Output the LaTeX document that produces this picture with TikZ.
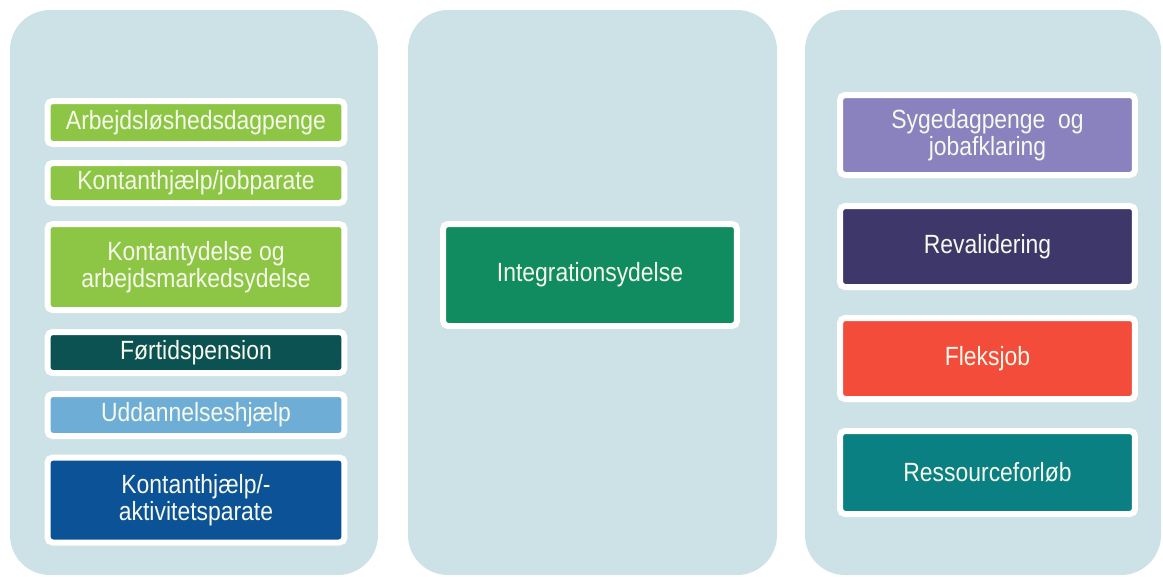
\documentclass[tikz,border=0pt]{standalone}
\usepackage{fontspec}
\setmainfont[FakeStretch=0.87]{Liberation Sans}
\usetikzlibrary{positioning}

\definecolor{panelbg}{RGB}{204,226,230}
\definecolor{txtcol}{RGB}{246,249,236}
\definecolor{lgreen}{RGB}{141,198,68}
\definecolor{dteal}{RGB}{12,82,82}
\definecolor{lblue}{RGB}{110,174,214}
\definecolor{dblue}{RGB}{12,82,150}
\definecolor{igreen}{RGB}{16,140,96}
\definecolor{lavender}{RGB}{138,130,190}
\definecolor{dpurple}{RGB}{62,56,106}
\definecolor{fred}{RGB}{244,76,58}
\definecolor{rteal}{RGB}{10,128,130}

\tikzset{
  panel/.style={fill=panelbg,rounded corners=0.8cm},
  ybox/.style={draw=white,line width=0.12cm,rounded corners=0.1cm,
    minimum width=#1,inner sep=0pt,align=center,text=txtcol,
    font=\fontsize{15}{15.6}\selectfont},
  ybox/.default=5.94cm
}

\begin{document}
\begin{tikzpicture}[x=0.02cm,y=-0.02cm]
        \useasboundingbox (0,0) rectangle (1163,576);
        %% Panels
        \fill[panel] (10,10) rectangle (378,575);
        \fill[panel] (408,10) rectangle (777,575);
        \fill[panel] (805,10) rectangle (1161,575);
        %% Left column
        \node[ybox,fill=lgreen,minimum height=0.86cm] (dagpenge) at (196,122.5) {Arbejdsløshedsdagpenge};
        \node[ybox,fill=lgreen,minimum height=0.80cm] (jobparate) at (196,183) {Kontanthjælp/jobparate};
        \node[ybox,fill=lgreen,minimum height=1.72cm] (kontanty) at (196,267) {Kontantydelse og\\arbejdsmarkedsydelse};
        \node[ybox,fill=dteal,minimum height=0.82cm] (foertid) at (196,352.5) {Førtidspension};
        \node[ybox,fill=lblue,minimum height=0.84cm] (uddannelse) at (196,415) {Uddannelseshjælp};
        \node[ybox,fill=dblue,minimum height=1.70cm] (aktivitet) at (196,500) {Kontanthjælp/-\\aktivitetsparate};
        %% Middle column
        \node[ybox=5.88cm,fill=igreen,minimum height=2.04cm] (integration) at (590,275) {Integrationsydelse};
        %% Right column
        \node[ybox=5.90cm,fill=lavender,minimum height=1.60cm] (syge) at (987.5,135) {Sygedagpenge~ og\\jobafklaring};
        \node[ybox=5.90cm,fill=dpurple,minimum height=1.62cm] (reval) at (987.5,246.5) {Revalidering};
        \node[ybox=5.90cm,fill=fred,minimum height=1.62cm] (fleks) at (987.5,358.5) {Fleksjob};
        \node[ybox=5.90cm,fill=rteal,minimum height=1.66cm] (ressource) at (987.5,472.5) {Ressourceforløb};
    \end{tikzpicture}
\end{document}
